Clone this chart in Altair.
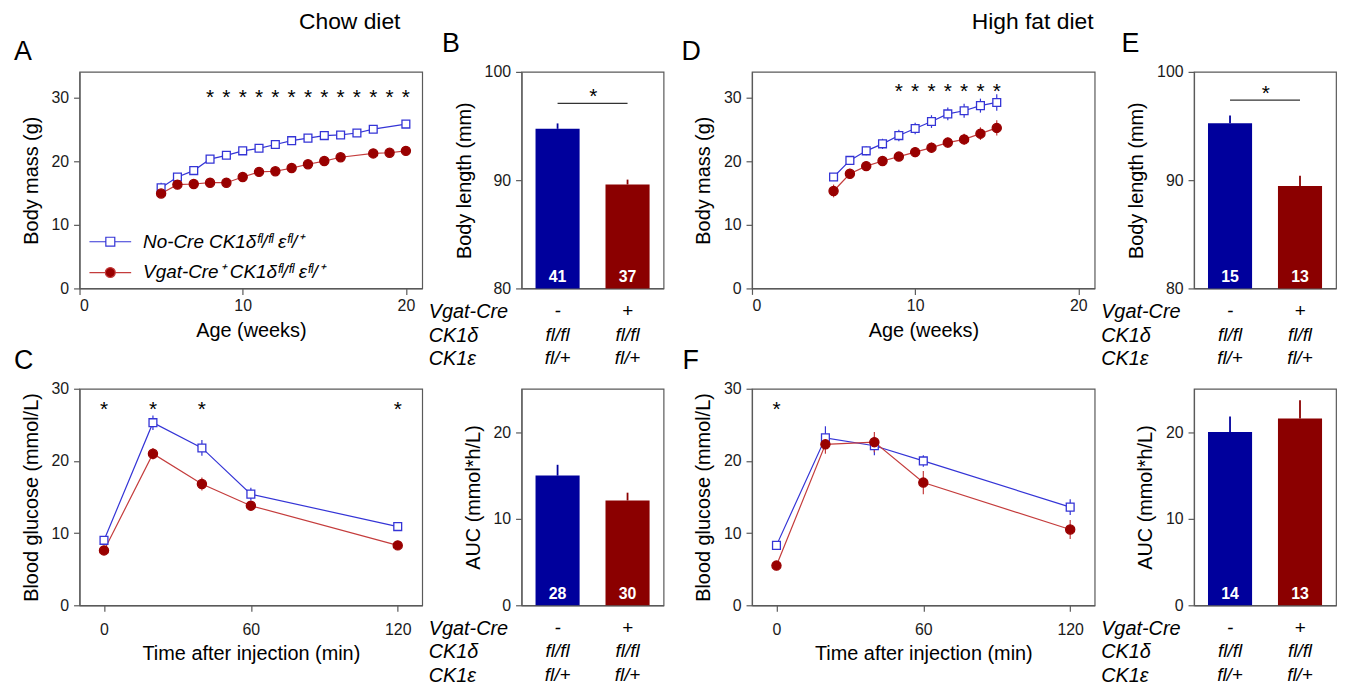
import altair as alt
import pandas as pd

FONT = "Liberation Sans"
FRAME = "#5a5a5a"
BLUE_LINE = "#3434d6"
RED_LINE = "#c43c3c"
RED_MARK = "#990000"
BAR_BLUE = "#00009c"
BAR_RED = "#8b0000"

GROUP_LABELS = ["No-Cre CK1δᶠˡ/ᶠˡ εᶠˡ/⁺", "Vgat-Cre⁺ CK1δᶠˡ/ᶠˡ εᶠˡ/⁺"]

# ---------------- A: chow, body mass vs age ----------------
a_ctrl_weeks = [5, 6, 7, 8, 9, 10, 11, 12, 13, 14, 15, 16, 17, 18, 20]
a_ctrl_mass = [15.8, 17.5, 18.5, 20.3, 20.9, 21.6, 22.0, 22.6, 23.2, 23.6, 24.0, 24.1, 24.4, 25.0, 25.8]
a_ctrl_sem = [0.8, 0.6, 0.6, 0.4, 0.4, 0.4, 0.4, 0.4, 0.4, 0.4, 0.4, 0.4, 0.4, 0.4, 0.4]
a_ko_weeks = [5, 6, 7, 8, 9, 10, 11, 12, 13, 14, 15, 16, 18, 19, 20]
a_ko_mass = [14.9, 16.3, 16.4, 16.6, 16.6, 17.5, 18.3, 18.4, 18.9, 19.5, 20.0, 20.6, 21.2, 21.3, 21.6]
a_ko_sem = [0.5, 0.4, 0.4, 0.4, 0.4, 0.4, 0.4, 0.4, 0.4, 0.4, 0.4, 0.4, 0.4, 0.4, 0.4]
a_star_weeks = [8, 9, 10, 11, 12, 13, 14, 15, 16, 17, 18, 19, 20]
a_star_level = [30.7]

# ---------------- C: chow, glucose tolerance ----------------
c_ctrl_min = [0, 20, 40, 60, 120]
c_ctrl_glu = [9.0, 25.3, 21.8, 15.4, 10.9]
c_ctrl_sem = [0.4, 1.0, 1.1, 0.9, 0.4]
c_ko_min = [0, 20, 40, 60, 120]
c_ko_glu = [7.6, 21.0, 16.8, 13.8, 8.3]
c_ko_sem = [0.4, 0.8, 0.9, 0.5, 0.4]
c_star_min = [0, 20, 40, 120]
c_star_level = [27.7]

# ---------------- D: high fat, body mass vs age ----------------
d_ctrl_weeks = [5, 6, 7, 8, 9, 10, 11, 12, 13, 14, 15]
d_ctrl_mass = [17.5, 20.1, 21.6, 22.7, 24.0, 25.1, 26.2, 27.4, 27.9, 28.7, 29.2]
d_ctrl_sem = [0.6, 0.7, 0.7, 0.8, 0.9, 0.9, 1.0, 1.0, 1.1, 1.1, 1.3]
d_ko_weeks = [5, 6, 7, 8, 9, 10, 11, 12, 13, 14, 15]
d_ko_mass = [15.3, 18.0, 19.2, 20.0, 20.7, 21.4, 22.1, 22.9, 23.4, 24.3, 25.2]
d_ko_sem = [1.0, 0.8, 0.7, 0.7, 0.7, 0.8, 0.8, 0.8, 0.9, 1.0, 1.2]
d_star_weeks = [9, 10, 11, 12, 13, 14, 15]
d_star_level = [31.6]

# ---------------- F: high fat, glucose tolerance ----------------
f_ctrl_min = [0, 20, 40, 60, 120]
f_ctrl_glu = [8.3, 23.2, 22.1, 20.0, 13.6]
f_ctrl_sem = [0.5, 1.6, 1.3, 0.8, 1.1]
f_ko_min = [0, 20, 40, 60, 120]
f_ko_glu = [5.5, 22.3, 22.6, 17.0, 10.5]
f_ko_sem = [0.4, 1.3, 1.4, 1.6, 1.3]
f_star_min = [0]
f_star_level = [27.8]

# ---------------- bar panels ----------------
geno_vgat = ["-", "+"]
geno_ck1d = ["fl/fl", "fl/fl"]
geno_ck1e = ["fl/+", "fl/+"]
row_headers = ["Vgat-Cre", "CK1δ", "CK1ε"]

b_len = [94.74, 89.6]
b_len_sem = [0.5, 0.45]
b_len_n = [41, 37]
b_sig_level = [97.1]
b_star_level = [98.1]

c_auc = [14.97, 12.1]
c_auc_sem = [1.25, 0.9]
c_auc_n = [28, 30]

e_len = [95.26, 89.45]
e_len_sem = [0.7, 0.95]
e_len_n = [15, 13]
e_sig_level = [97.4]
e_star_level = [98.4]

f_auc = [20.0, 21.57]
f_auc_sem = [1.8, 2.1]
f_auc_n = [14, 13]

CATS = ["|".join(t) for t in zip(geno_vgat, geno_ck1d, geno_ck1e)]

SQ_PATH = "M-2.1,0H-0.45M0.45,0H2.1M-0.45,-0.45H0.45V0.45H-0.45Z"
CIRC_PATH = "M-2.1,0H-0.5M0.5,0H2.1M-0.5,0A0.5,0.5,0,1,1,0.5,0A0.5,0.5,0,1,1,-0.5,0Z"

LINE_W = 345
BAR_W = 143
H = 218


def series_df(xc, yc, ec, xk, yk, ek):
    rows = []
    for x, y, e in zip(xc, yc, ec):
        rows.append({"t": x, "v": y, "lo": y - e, "hi": y + e, "g": GROUP_LABELS[0]})
    for x, y, e in zip(xk, yk, ek):
        rows.append({"t": x, "v": y, "lo": y - e, "hi": y + e, "g": GROUP_LABELS[1]})
    return pd.DataFrame(rows)


def letter_title(letter, dx):
    return alt.TitleParams(letter, anchor="start", frame="group", dx=dx, fontSize=27,
                           fontWeight="normal", offset=6, color="black", font=FONT)


def line_panel(df, star_x, star_level, xdom, xticks, ydom, yticks, xtitle, ytitle,
               letter, letter_dx, with_legend=False, xlabel_pad=3):
    xs = alt.Scale(domain=xdom, nice=False, zero=False)
    ys = alt.Scale(domain=ydom, nice=False, zero=False)
    xax = alt.Axis(values=xticks, title=xtitle, grid=False, tickSize=6, labelPadding=xlabel_pad,
                   titlePadding=7, format="d")
    yax = alt.Axis(values=yticks, title=ytitle, grid=False, tickSize=6, labelPadding=5,
                   titlePadding=10)
    X = alt.X("t:Q", scale=xs, axis=xax)
    Y = alt.Y("v:Q", scale=ys, axis=yax)
    col = alt.Color("g:N", scale=alt.Scale(domain=GROUP_LABELS, range=[BLUE_LINE, RED_LINE]),
                    legend=None)
    base = alt.Chart(df)
    line = base.mark_line(strokeWidth=1.2).encode(x=X, y=Y, color=col)
    err = base.mark_rule(strokeWidth=1.2).encode(
        x=X, y=alt.Y("lo:Q", scale=ys, axis=yax), y2="hi:Q", color=col)
    pts = base.mark_point(filled=True, strokeWidth=1.3, opacity=1).encode(
        x=X, y=Y,
        shape=alt.Shape("g:N", scale=alt.Scale(domain=GROUP_LABELS, range=["square", "circle"]),
                        legend=None),
        fill=alt.Fill("g:N", scale=alt.Scale(domain=GROUP_LABELS, range=["white", RED_MARK]),
                      legend=None),
        stroke=alt.Stroke("g:N", scale=alt.Scale(domain=GROUP_LABELS, range=[BLUE_LINE, RED_MARK]),
                          legend=None),
        size=alt.Size("g:N", scale=alt.Scale(domain=GROUP_LABELS, range=[62, 85]), legend=None),
    )
    sdf = pd.DataFrame({"t": star_x, "v": star_level * len(star_x)})
    stars = alt.Chart(sdf).mark_text(text="*", fontSize=21, baseline="middle", dy=5,
                                     color="black", font=FONT).encode(x=X, y=Y)
    layers = [line, err, pts, stars]
    if with_legend:
        leg = alt.Legend(title=None, orient="none", legendX=20, legendY=160, symbolSize=400,
                         symbolStrokeWidth=1.2, labelFontSize=19, labelFontStyle="italic",
                         labelFont=FONT, labelColor="black", labelOffset=22, rowPadding=10,
                         labelLimit=500)
        ldf = pd.DataFrame({"g": GROUP_LABELS})
        hidden = alt.Chart(ldf).transform_filter("false").mark_point(filled=True, opacity=1).encode(
            shape=alt.Shape("g:N", scale=alt.Scale(domain=GROUP_LABELS, range=[SQ_PATH, CIRC_PATH]),
                            legend=leg),
            fill=alt.Fill("g:N", scale=alt.Scale(domain=GROUP_LABELS, range=["white", RED_MARK]),
                          legend=leg),
            stroke=alt.Stroke("g:N", scale=alt.Scale(domain=GROUP_LABELS, range=[BLUE_LINE, RED_LINE]),
                              legend=leg),
        )
        layers.append(hidden)
    ch = alt.layer(*layers).properties(width=LINE_W, height=H)
    if with_legend:
        ch = ch.resolve_scale(shape="independent", fill="independent", stroke="independent")
    if letter:
        ch = ch.properties(title=letter_title(letter, letter_dx))
    return ch


def bar_panel(vals, sems, ns, ydom, yticks, ytitle, letter=None, letter_dx=0,
              sig_level=None, star_level=None):
    df = pd.DataFrame({
        "cat": CATS,
        "v": vals,
        "hi": [v + e for v, e in zip(vals, sems)],
        "n": [str(n) for n in ns],
        "base": [ydom[0] for _ in CATS],
    })
    xs = alt.Scale(domain=CATS, paddingInner=0.37, paddingOuter=0.2)
    ys = alt.Scale(domain=ydom, nice=False, zero=False)
    xax = alt.Axis(title=row_headers, titleFontStyle="italic", titleFontSize=20,
                   titleAlign="left", titleAnchor="start", titleX=-94, titleY=13,
                   titleBaseline="top", titleLineHeight=24, titleAngle=0,
                   labelExpr="split(datum.label, '|')", labelAngle=0, labelFontSize=19,
                   labelFontStyle="italic", labelColor="black", labelBaseline="top",
                   labelLineHeight=24, labelPadding=13, ticks=False, tickSize=0)
    yax = alt.Axis(values=yticks, title=ytitle, grid=False, tickSize=6, labelPadding=5,
                   titlePadding=10)
    X = alt.X("cat:N", sort=CATS, scale=xs, axis=xax)
    Y = alt.Y("v:Q", scale=ys, axis=yax)
    col = alt.Color("cat:N", scale=alt.Scale(domain=CATS, range=[BAR_BLUE, BAR_RED]), legend=None)
    base = alt.Chart(df)
    bars = base.mark_bar().encode(x=X, y=Y, y2="base:Q", color=col)
    err = base.mark_rule(strokeWidth=1.8).encode(x=X, y=Y, y2="hi:Q", color=col)
    ntext = base.mark_text(color="white", fontWeight="bold", fontSize=16, baseline="alphabetic",
                           dy=-6, font=FONT).encode(
        x=X, y=alt.Y("base:Q", scale=ys, axis=yax), text="n:N")
    layers = [bars, err, ntext]
    if sig_level is not None:
        sdf = pd.DataFrame({"c1": [CATS[0]], "c2": [CATS[1]], "y": sig_level, "s": star_level})
        rule = alt.Chart(sdf).mark_rule(color="#333333", strokeWidth=1.2).encode(
            x=alt.X("c1:N", sort=CATS, scale=xs, axis=xax), x2="c2:N",
            y=alt.Y("y:Q", scale=ys, axis=yax))
        star = alt.Chart(sdf).mark_text(text="*", fontSize=21, baseline="middle", dy=5, dx=36,
                                        color="black", font=FONT).encode(
            x=alt.X("c1:N", sort=CATS, scale=xs, axis=xax),
            y=alt.Y("s:Q", scale=ys, axis=yax))
        layers += [rule, star]
    ch = alt.layer(*layers).properties(width=BAR_W, height=H)
    if letter:
        ch = ch.properties(title=letter_title(letter, letter_dx))
    return ch


panel_a = line_panel(series_df(a_ctrl_weeks, a_ctrl_mass, a_ctrl_sem, a_ko_weeks, a_ko_mass, a_ko_sem),
                     a_star_weeks, a_star_level, [0, 21], [0, 10, 20], [0, 34], [0, 10, 20, 30],
                     "Age (weeks)", "Body mass (g)", "A", -66, with_legend=True)
panel_b = bar_panel(b_len, b_len_sem, b_len_n, [80, 100], [80, 90, 100], "Body length (mm)",
                    "B", -80, b_sig_level, b_star_level)
panel_c = line_panel(series_df(c_ctrl_min, c_ctrl_glu, c_ctrl_sem, c_ko_min, c_ko_glu, c_ko_sem),
                     c_star_min, c_star_level, [-10, 130], [0, 60, 120], [0, 30], [0, 10, 20, 30],
                     "Time after injection (min)", "Blood glucose (mmol/L)", "C", -66,
                     xlabel_pad=10)
panel_c2 = bar_panel(c_auc, c_auc_sem, c_auc_n, [0, 25], [0, 10, 20], "AUC (mmol*h/L)")

panel_d = line_panel(series_df(d_ctrl_weeks, d_ctrl_mass, d_ctrl_sem, d_ko_weeks, d_ko_mass, d_ko_sem),
                     d_star_weeks, d_star_level, [0, 21], [0, 10, 20], [0, 34], [0, 10, 20, 30],
                     "Age (weeks)", "Body mass (g)", "D", -71)
panel_e = bar_panel(e_len, e_len_sem, e_len_n, [80, 100], [80, 90, 100], "Body length (mm)",
                    "E", -73, e_sig_level, e_star_level)
panel_f = line_panel(series_df(f_ctrl_min, f_ctrl_glu, f_ctrl_sem, f_ko_min, f_ko_glu, f_ko_sem),
                     f_star_min, f_star_level, [-10, 130], [0, 60, 120], [0, 30], [0, 10, 20, 30],
                     "Time after injection (min)", "Blood glucose (mmol/L)", "F", -70,
                     xlabel_pad=10)
panel_f2 = bar_panel(f_auc, f_auc_sem, f_auc_n, [0, 25], [0, 10, 20], "AUC (mmol*h/L)")

left = alt.concat(panel_a, panel_b, panel_c, panel_c2, columns=2,
                  spacing={"row": 101, "column": 100}, bounds="flush", align="each",
                  title=alt.TitleParams("Chow diet", fontSize=23, fontWeight="normal",
                                        anchor="middle", dx=11, offset=-4, color="black",
                                        font=FONT)).resolve_scale(color="independent")
right = alt.concat(panel_d, panel_e, panel_f, panel_f2, columns=2,
                   spacing={"row": 101, "column": 100}, bounds="flush", align="each",
                   title=alt.TitleParams("High fat diet", fontSize=23, fontWeight="normal",
                                         anchor="middle", dx=24, offset=-4, color="black",
                                         font=FONT)).resolve_scale(color="independent")

chart = alt.hconcat(left, right, spacing=16).resolve_scale(color="independent").configure(
    font=FONT, padding={"left": 5, "top": 0, "right": 5, "bottom": 5}
).configure_view(
    stroke=FRAME, strokeWidth=1.2
).configure_axis(
    domainColor=FRAME, tickColor=FRAME, domainWidth=1.2, tickWidth=1.2,
    labelColor="#1a1a1a", titleColor="black", labelFont=FONT, titleFont=FONT,
    labelFontSize=16, titleFontSize=20, titleFontWeight="normal"
).configure_title(font=FONT, color="black", fontWeight="normal")

chart.save("out.html", embed_options={"renderer": "svg", "actions": False})
